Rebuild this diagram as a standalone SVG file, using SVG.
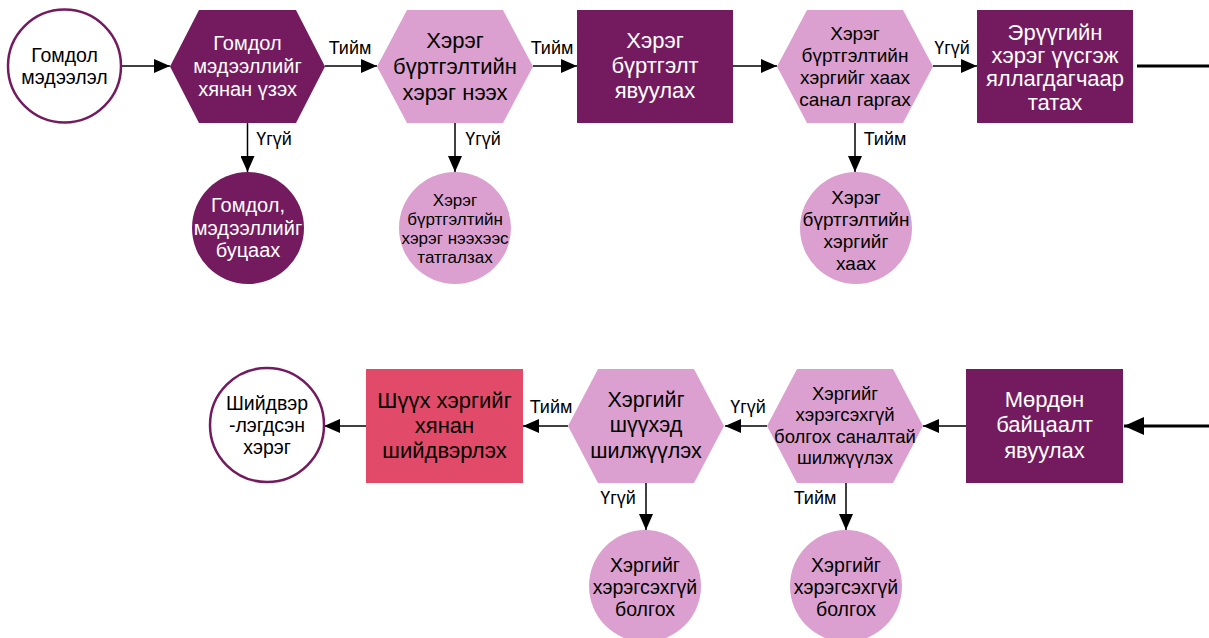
<svg xmlns="http://www.w3.org/2000/svg" width="1209" height="638" viewBox="0 0 1209 638">
<style>
text{font-family:"Liberation Sans",Arial,sans-serif;text-anchor:middle}
.w{fill:#fff}.k{fill:#000}
.dp{fill:#741b5f}.lp{fill:#dba0cf}.rd{fill:#e14b69}
.oc{fill:#fff;stroke:#741b5f;stroke-width:2.5}
.ln{stroke:#000;stroke-width:1.5;fill:none}
.hv{stroke:#000;stroke-width:3;fill:none}
.lb{font-size:18px;fill:#000}
</style>
<defs>
<marker id="ah" markerUnits="userSpaceOnUse" markerWidth="16" markerHeight="14" refX="16" refY="7" orient="auto"><path d="M0,0L16,7L0,14Z" fill="#000"/></marker>
<marker id="ahb" markerUnits="userSpaceOnUse" markerWidth="20" markerHeight="18" refX="20" refY="9" orient="auto"><path d="M0,0L20,9L0,18Z" fill="#000"/></marker>
</defs>
<g id="connectors">
<path class="ln" d="M122,66H170" marker-end="url(#ah)"/>
<path class="ln" d="M325,66H377" marker-end="url(#ah)"/>
<path class="ln" d="M533,66H577" marker-end="url(#ah)"/>
<path class="ln" d="M733,66H777" marker-end="url(#ah)"/>
<path class="ln" d="M933,66H977" marker-end="url(#ah)"/>
<path class="hv" d="M1137,66H1209"/>
<path class="ln" d="M247.5,123V172" marker-end="url(#ah)"/>
<path class="ln" d="M455,123V172" marker-end="url(#ah)"/>
<path class="ln" d="M855,123V172" marker-end="url(#ah)"/>
<path class="hv" d="M1209,426H1124" marker-end="url(#ahb)"/>
<path class="ln" d="M966,426H923" marker-end="url(#ah)"/>
<path class="ln" d="M767,426H725" marker-end="url(#ah)"/>
<path class="ln" d="M568,426H523" marker-end="url(#ah)"/>
<path class="ln" d="M366,426H324" marker-end="url(#ah)"/>
<path class="ln" d="M646,483V530" marker-end="url(#ah)"/>
<path class="ln" d="M846,483V530" marker-end="url(#ah)"/>
<text class="lb" x="350" y="54">Тийм</text>
<text class="lb" x="552" y="54">Тийм</text>
<text class="lb" x="952" y="54">Үгүй</text>
<text class="lb" x="274" y="145">Үгүй</text>
<text class="lb" x="483" y="145">Үгүй</text>
<text class="lb" x="885" y="145">Тийм</text>
<text class="lb" x="551" y="413">Тийм</text>
<text class="lb" x="748" y="413">Үгүй</text>
<text class="lb" x="618" y="504">Үгүй</text>
<text class="lb" x="815" y="504">Тийм</text>
</g>
<g id="n1">
<circle class="oc" cx="64.5" cy="66" r="56.5"/>
<text class="k" font-size="19.5"><tspan x="64.5" y="62">Гомдол</tspan><tspan x="64.5" y="84">мэдээлэл</tspan></text>
</g>
<g id="n2">
<polygon class="dp" points="170,66.5 199,10 296,10 325,66.5 296,123 199,123"/>
<text class="w" font-size="20"><tspan x="247.5" y="50">Гомдол</tspan><tspan x="247.5" y="73">мэдээллийг</tspan><tspan x="247.5" y="96">хянан үзэх</tspan></text>
</g>
<g id="n3">
<circle class="dp" cx="248" cy="228" r="56"/>
<text class="w" font-size="20"><tspan x="248" y="212">Гомдол,</tspan><tspan x="248" y="235">мэдээллийг</tspan><tspan x="248" y="257">буцаах</tspan></text>
</g>
<g id="n4">
<polygon class="lp" points="377,66.5 407,10 503,10 533,66.5 503,123 407,123"/>
<text class="k" font-size="22"><tspan x="455" y="48">Хэрэг</tspan><tspan x="455" y="74">бүртгэлтийн</tspan><tspan x="455" y="100">хэрэг нээх</tspan></text>
</g>
<g id="n5">
<circle class="lp" cx="455" cy="228" r="56"/>
<text class="k" font-size="17"><tspan x="455" y="206">Хэрэг</tspan><tspan x="455" y="225">бүртгэлтийн</tspan><tspan x="455" y="244">хэрэг нээхээс</tspan><tspan x="455" y="263">татгалзах</tspan></text>
</g>
<g id="n6">
<rect class="dp" x="577" y="10" width="156" height="113"/>
<text class="w" font-size="22"><tspan x="655" y="48">Хэрэг</tspan><tspan x="655" y="73">бүртгэлт</tspan><tspan x="655" y="98">явуулах</tspan></text>
</g>
<g id="n7">
<polygon class="lp" points="777,66.5 807,10 903,10 933,66.5 903,123 807,123"/>
<text class="k" font-size="19"><tspan x="855" y="40">Хэрэг</tspan><tspan x="855" y="62">бүртгэлтийн</tspan><tspan x="855" y="84">хэргийг хаах</tspan><tspan x="855" y="106">санал гаргах</tspan></text>
</g>
<g id="n8">
<circle class="lp" cx="856" cy="228" r="56"/>
<text class="k" font-size="19"><tspan x="856" y="204">Хэрэг</tspan><tspan x="856" y="226">бүртгэлтийн</tspan><tspan x="856" y="248">хэргийг</tspan><tspan x="856" y="270">хаах</tspan></text>
</g>
<g id="n9">
<rect class="dp" x="977" y="10" width="156" height="113"/>
<text class="w" font-size="22"><tspan x="1055" y="40">Эрүүгийн</tspan><tspan x="1055" y="63">хэрэг үүсгэж</tspan><tspan x="1055" y="86">яллагдагчаар</tspan><tspan x="1055" y="110">татах</tspan></text>
</g>
<g id="n10">
<rect class="dp" x="966" y="369" width="157" height="114"/>
<text class="w" font-size="22"><tspan x="1044.5" y="407">Мөрдөн</tspan><tspan x="1044.5" y="432">байцаалт</tspan><tspan x="1044.5" y="458">явуулах</tspan></text>
</g>
<g id="n11">
<polygon class="lp" points="767,426 797,369 893,369 923,426 893,483 797,483"/>
<text class="k" font-size="18.5"><tspan x="845" y="400">Хэргийг</tspan><tspan x="845" y="421">хэрэгсэхгүй</tspan><tspan x="845" y="443">болгох саналтай</tspan><tspan x="845" y="464">шилжүүлэх</tspan></text>
</g>
<g id="n12">
<circle class="lp" cx="846" cy="586" r="56"/>
<text class="k" font-size="19.5"><tspan x="846" y="572">Хэргийг</tspan><tspan x="846" y="594">хэрэгсэхгүй</tspan><tspan x="846" y="616">болгох</tspan></text>
</g>
<g id="n13">
<polygon class="lp" points="568,426 598,369 694,369 724,426 694,483 598,483"/>
<text class="k" font-size="21.5"><tspan x="646" y="407">Хэргийг</tspan><tspan x="646" y="432">шүүхэд</tspan><tspan x="646" y="458">шилжүүлэх</tspan></text>
</g>
<g id="n14">
<circle class="lp" cx="645" cy="586" r="56"/>
<text class="k" font-size="19.5"><tspan x="645" y="572">Хэргийг</tspan><tspan x="645" y="594">хэрэгсэхгүй</tspan><tspan x="645" y="616">болгох</tspan></text>
</g>
<g id="n15">
<rect class="rd" x="366" y="369" width="157" height="114"/>
<text class="k" font-size="22"><tspan x="444.5" y="408">Шүүх хэргийг</tspan><tspan x="444.5" y="433">хянан</tspan><tspan x="444.5" y="458">шийдвэрлэх</tspan></text>
</g>
<g id="n16">
<circle class="oc" cx="267" cy="425" r="57"/>
<text class="k" font-size="19.5"><tspan x="267" y="410">Шийдвэр</tspan><tspan x="267" y="432">-лэгдсэн</tspan><tspan x="267" y="454">хэрэг</tspan></text>
</g>
</svg>
